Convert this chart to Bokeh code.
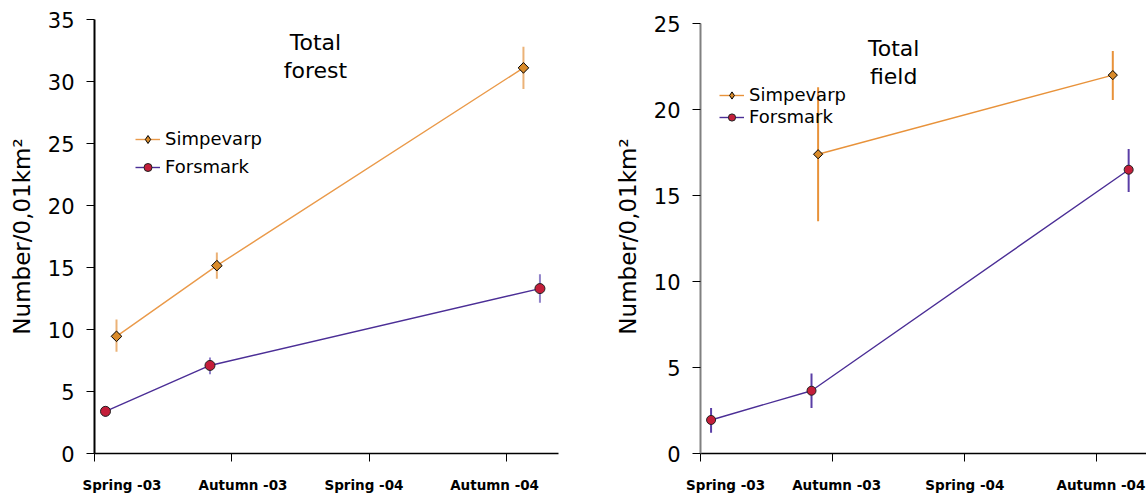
from bokeh.plotting import figure
from bokeh.layouts import row
from bokeh.models import FixedTicker, Range1d, Legend, LegendItem, ColumnDataSource
from bokeh.core.properties import value
from bokeh.embed import file_html
from bokeh.resources import INLINE

# ---------------- data ----------------
season_labels = ["Spring -03", "Autumn -03", "Spring -04", "Autumn -04"]
season_ticks = [0, 1, 2, 3]
label_pos_forest = [0.20, 1.08, 1.96, 2.91]
label_pos_field = [0.19, 1.03, 2.00, 3.03]

# Total forest
forest_simp_x = [0.16, 0.89, 3.12]
forest_simp = [9.45, 15.15, 31.1]
forest_simp_lo = [8.2, 14.1, 29.4]
forest_simp_hi = [10.8, 16.2, 32.8]
forest_fors_x = [0.08, 0.84, 3.24]
forest_fors = [3.4, 7.1, 13.3]
forest_fors_lo = [2.95, 6.4, 12.15]
forest_fors_hi = [3.8, 7.75, 14.45]

# Total field
field_simp_x = [0.89, 3.12]
field_simp = [17.4, 22.0]
field_simp_lo = [13.5, 20.55]
field_simp_hi = [21.3, 23.4]
field_fors_x = [0.08, 0.84, 3.24]
field_fors = [1.95, 3.65, 16.5]
field_fors_lo = [1.2, 2.65, 15.2]
field_fors_hi = [2.65, 4.65, 17.7]

FONT = "DejaVu Sans"
ORANGE = "#E8923A"
ORANGE_FILL = "#D98B2B"
PURPLE = "#4B2E96"
RED = "#C41E3A"


def make_panel(width, ymax, yend, min_left, min_right, label_pos, yaxis_color,
               simp_x, simp, simp_lo, simp_hi, fors_x, fors, fors_lo, fors_hi,
               title_lines, title_x, title_y, leg_loc, leg_glyph_h, leg_spacing,
               err_simp_color, err_fors_color, err_alpha, msize, line_color_s):
    p = figure(width=width, height=495, output_backend="svg", toolbar_location=None,
               x_range=Range1d(0, 3.375), y_range=Range1d(0, yend),
               min_border_left=min_left, min_border_right=min_right,
               min_border_top=19, min_border_bottom=42)
    p.outline_line_color = None
    p.xgrid.visible = False
    p.ygrid.visible = False
    p.background_fill_color = "white"
    p.border_fill_color = "white"

    # x axis: labels between ticks, ticks as minor ticks
    xa = p.xaxis[0]
    xa.ticker = FixedTicker(ticks=label_pos, minor_ticks=season_ticks)
    xa.major_label_overrides = {float(v): s for v, s in zip(label_pos, season_labels)}
    xa.major_tick_out = 0
    xa.major_tick_in = 0
    xa.minor_tick_out = 8
    xa.minor_tick_in = 0
    xa.minor_tick_line_color = "black"
    xa.axis_line_color = "black"
    xa.axis_line_width = 1.5
    xa.major_label_text_font = FONT
    xa.major_label_text_font_style = "bold"
    xa.major_label_text_font_size = "13.5px"
    xa.major_label_text_color = "black"
    xa.major_label_standoff = 15

    ya = p.yaxis[0]
    ya.ticker = FixedTicker(ticks=list(range(0, ymax + 1, 5)))
    ya.bounds = (0, ymax)
    ya.minor_tick_line_color = None
    ya.major_tick_out = 8
    ya.major_tick_in = 0
    ya.major_tick_line_color = "black"
    ya.axis_line_color = yaxis_color
    ya.axis_line_width = 2
    ya.major_label_text_font = FONT
    ya.major_label_text_font_size = "21px"
    ya.major_label_text_color = "black"
    ya.major_label_standoff = 12
    ya.axis_label = "Number/0,01km²"
    ya.axis_label_text_font = FONT
    ya.axis_label_text_font_style = "normal"
    ya.axis_label_text_font_size = "23px"
    ya.axis_label_text_color = "black"
    ya.axis_label_standoff = 10

    # error bars
    p.segment(x0=simp_x, y0=simp_lo, x1=simp_x, y1=simp_hi,
              line_color=err_simp_color, line_width=2, line_alpha=err_alpha)
    p.segment(x0=fors_x, y0=fors_lo, x1=fors_x, y1=fors_hi,
              line_color=err_fors_color, line_width=2, line_alpha=err_alpha)

    # lines + markers
    l1 = p.line(simp_x, simp, line_color=line_color_s, line_width=1.4)
    p.scatter(simp_x, simp, marker="square", angle=0.785398, size=msize - 2.5,
              fill_color=ORANGE_FILL, line_color="black", line_width=1)
    # legend-only glyph for the diamond symbol (its point lies outside the frame)
    m1_leg = p.scatter(x=[-5], y=[-5], marker="diamond", size=12,
                       fill_color=ORANGE_FILL, line_color="black", line_width=1)
    l2 = p.line(fors_x, fors, line_color=PURPLE, line_width=1.4)
    m2 = p.scatter(fors_x, fors, marker="circle", size=msize,
                   fill_color=RED, line_color="#222222", line_width=1)

    legend = Legend(items=[LegendItem(label="Simpevarp", renderers=[l1, m1_leg]),
                           LegendItem(label="Forsmark", renderers=[l2, m2])],
                    location=leg_loc, padding=0, margin=0, spacing=leg_spacing,
                    glyph_width=25, glyph_height=leg_glyph_h, label_height=leg_glyph_h,
                    label_standoff=5, border_line_color=None,
                    background_fill_alpha=0,
                    label_text_font=FONT, label_text_font_size="18px",
                    label_text_color="black")
    p.add_layout(legend)

    src = ColumnDataSource(dict(x=[title_x, title_x], y=title_y, t=title_lines))
    p.text(x="x", y="y", text="t", source=src, text_align="center",
           text_baseline="middle", text_font=value(FONT), text_font_size="22px",
           text_color="black")
    return p


p1 = make_panel(600, 35, 35, 94, 42, label_pos_forest, "black",
                forest_simp_x, forest_simp, forest_simp_lo, forest_simp_hi,
                forest_fors_x, forest_fors, forest_fors_lo, forest_fors_hi,
                ["Total", "forest"], 1.607, [33.15, 30.9], (41, 276), 20, 7,
                "#E8A45F", "#7C6CC0", 0.85, 10, "#EA9A4A")

p2 = make_panel(546, 25, 25.233, 100, 0, label_pos_field, "#808080",
                field_simp_x, field_simp, field_simp_lo, field_simp_hi,
                field_fors_x, field_fors, field_fors_lo, field_fors_hi,
                ["Total", "field"], 1.462, [23.55, 21.92], (19, 326), 18, 1,
                ORANGE, "#5A3EA6", 1.0, 9, ORANGE)

layout = row(p1, p2)
open("out.html", "w").write(file_html(layout, INLINE))
